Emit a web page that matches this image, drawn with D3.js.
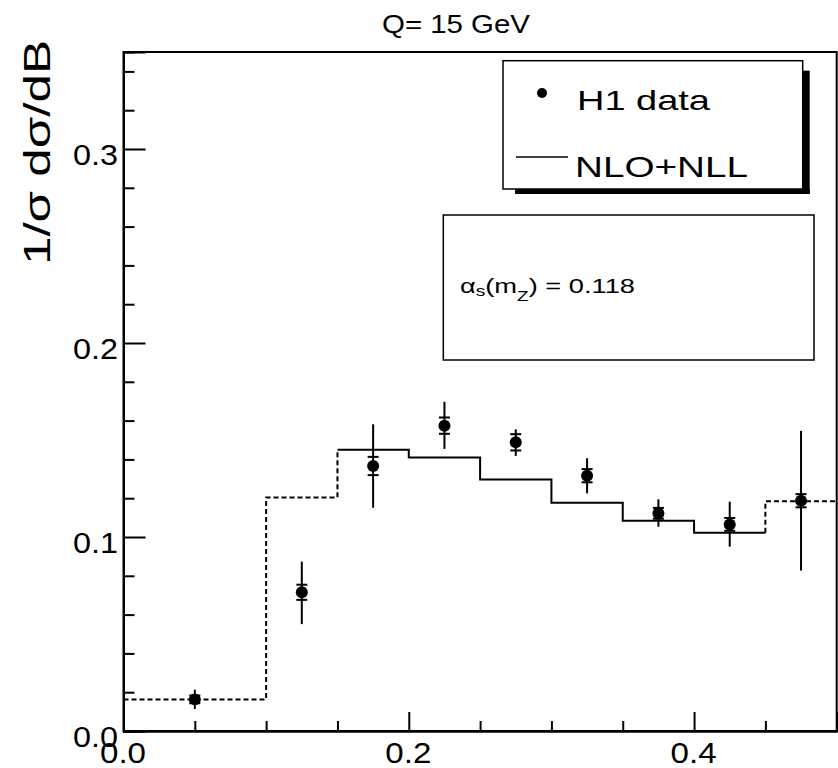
<!DOCTYPE html>
<meta charset="utf-8">
<script src="https://d3js.org/d3.v7.min.js"></script>
<style>
  html, body { margin: 0; padding: 0; background: #fff; }
  text { font-family: 'Liberation Sans', Arial, sans-serif; fill: #000; }
</style>
<body>
<div id="chart"></div>
<script>

// NLO+NLL histogram, bins of 0.05 in B
var binEdges = [0, 0.05, 0.1, 0.15, 0.2, 0.25, 0.3, 0.35, 0.4, 0.45, 0.5];
var nllVals = [0.0163, 0.0163, 0.1204, 0.145, 0.141, 0.1297, 0.1177, 0.1084, 0.1022, 0.1184];
var nllDashed = [true, true, true, false, false, false, false, false, false, true];

// H1 data points
var dataB = [0.05, 0.125, 0.175, 0.225, 0.275, 0.325, 0.375, 0.425, 0.475];
var dataVals = [0.0163, 0.0715, 0.1366, 0.1574, 0.1488, 0.1316, 0.1122, 0.1065, 0.1187];
var statErr = [0.002, 0.0039, 0.0047, 0.0042, 0.0042, 0.0034, 0.0028, 0.0033, 0.0034];
var totErrUp = [0.005, 0.0158, 0.0215, 0.0123, 0.0067, 0.009, 0.0072, 0.0117, 0.036];
var totErrDn = [0.005, 0.0164, 0.0215, 0.012, 0.007, 0.0091, 0.0069, 0.0115, 0.036];

var xMajor = [0, 0.2, 0.4];
var xMinor = [0.05, 0.1, 0.15, 0.25, 0.3, 0.35, 0.45];
var yMajor = [0, 0.1, 0.2, 0.3];
var yMinor = [0.02, 0.04, 0.06, 0.08, 0.12, 0.14, 0.16, 0.18, 0.22, 0.24, 0.26, 0.28, 0.32, 0.34];

var W = 838, H = 768;
var pLeft = 123.5, pRight = 836.7, pTop = 52, pBottom = 731;

var svg = d3.select("#chart").append("svg")
    .attr("width", W)
    .attr("height", H);

var x = d3.scaleLinear().domain([0, 0.5]).range([pLeft, pRight]);
var y = d3.scaleLinear().domain([0, 0.35]).range([pBottom, pTop]);

// frame
svg.append("rect")
  .attr("x", pLeft).attr("y", pTop)
  .attr("width", pRight - pLeft).attr("height", pBottom - pTop)
  .attr("fill", "none").attr("stroke", "#000").attr("stroke-width", 2);

// X axis (ticks point into the plot)
var xAxis = svg.append("g")
  .attr("transform", "translate(0," + pBottom + ")")
  .call(d3.axisBottom(x).tickValues(xMajor).tickSize(-19).tickPadding(10)
        .tickFormat(d3.format(".1f")));
svg.append("g")
  .attr("transform", "translate(0," + pBottom + ")")
  .call(d3.axisBottom(x).tickValues(xMinor).tickSize(-10).tickFormat(""));

// Y axis
var yAxis = svg.append("g")
  .attr("transform", "translate(" + pLeft + ",0)")
  .call(d3.axisLeft(y).tickValues(yMajor).tickSize(-22).tickPadding(5.5)
        .tickFormat(d3.format(".1f")));
svg.append("g")
  .attr("transform", "translate(" + pLeft + ",0)")
  .call(d3.axisLeft(y).tickValues(yMinor).tickSize(-11).tickFormat(""));

svg.selectAll(".domain").attr("stroke", "#000").attr("stroke-width", 2);
svg.selectAll(".tick line").attr("stroke", "#000").attr("stroke-width", 2);

xAxis.selectAll("text")
  .attr("dy", null).attr("y", 32)
  .attr("dx", -1)
  .style("font-size", "30px")
  .style("font-family", "'Liberation Sans', Arial, sans-serif")
  .attr("textLength", 46).attr("lengthAdjust", "spacingAndGlyphs");

yAxis.selectAll("text")
  .attr("dy", 15)
  .style("font-size", "29px")
  .style("font-family", "'Liberation Sans', Arial, sans-serif")
  .attr("textLength", 45).attr("lengthAdjust", "spacingAndGlyphs");

// NLO+NLL step histogram, split into solid and dashed runs
var step = d3.line()
  .x(function(d) { return x(d[0]); })
  .y(function(d) { return y(d[1]); })
  .curve(d3.curveStepAfter);

var runs = [];
var i = 0;
while (i < nllVals.length) {
  var j = i;
  while (j + 1 < nllVals.length && nllDashed[j + 1] === nllDashed[i]) j++;
  var pts = [];
  if (nllDashed[i] && i > 0) pts.push([binEdges[i], nllVals[i - 1]]);
  for (var k = i; k <= j; k++) pts.push([binEdges[k], nllVals[k]]);
  pts.push([binEdges[j + 1], nllVals[j]]);
  if (nllDashed[i] && j + 1 < nllVals.length) pts.push([binEdges[j + 1], nllVals[j + 1]]);
  runs.push({pts: pts, dashed: nllDashed[i]});
  i = j + 1;
}

svg.selectAll("path.nll")
  .data(runs)
  .enter().append("path")
  .attr("class", "nll")
  .attr("d", function(d) { return step(d.pts); })
  .attr("fill", "none")
  .attr("stroke", "#000")
  .attr("stroke-width", 2)
  .attr("stroke-dasharray", function(d) { return d.dashed ? "5,3" : null; });

// data points with errors
var points = dataB.map(function(b, i) {
  return {b: b, v: dataVals[i], s: statErr[i], up: totErrUp[i], dn: totErrDn[i]};
});

var g = svg.append("g");
g.selectAll("line.tot")
  .data(points).enter().append("line")
  .attr("class", "tot")
  .attr("x1", function(d) { return x(d.b); })
  .attr("x2", function(d) { return x(d.b); })
  .attr("y1", function(d) { return y(d.v - d.dn); })
  .attr("y2", function(d) { return y(d.v + d.up); })
  .attr("stroke", "#000").attr("stroke-width", 2);

[1, -1].forEach(function(sgn) {
  g.selectAll("line.stat" + (sgn > 0 ? "u" : "d"))
    .data(points).enter().append("line")
    .attr("class", "stat" + (sgn > 0 ? "u" : "d"))
    .attr("x1", function(d) { return x(d.b) - 5.5; })
    .attr("x2", function(d) { return x(d.b) + 5.5; })
    .attr("y1", function(d) { return y(d.v + sgn * d.s); })
    .attr("y2", function(d) { return y(d.v + sgn * d.s); })
    .attr("stroke", "#000").attr("stroke-width", 2);
});

g.selectAll("circle")
  .data(points).enter().append("circle")
  .attr("cx", function(d) { return x(d.b); })
  .attr("cy", function(d) { return y(d.v); })
  .attr("r", 6)
  .attr("fill", "#000");

// title
svg.append("text")
  .attr("x", 382).attr("y", 33)
  .style("font-size", "25px")
  .attr("textLength", 148).attr("lengthAdjust", "spacingAndGlyphs")
  .text("Q= 15 GeV");

// y title
svg.append("text")
  .attr("transform", "translate(50,40) rotate(-90)")
  .attr("text-anchor", "end")
  .style("font-size", "37px")
  .attr("textLength", 225).attr("lengthAdjust", "spacingAndGlyphs")
  .text("1/σ dσ/dB");

// legend with shadow
var lx = 503, ly = 60.7, lw = 299.7, lh = 128.3;
svg.append("rect").attr("x", lx + lw).attr("y", ly + 10).attr("width", 7).attr("height", lh - 5).attr("fill", "#000");
svg.append("rect").attr("x", lx + 12).attr("y", ly + lh).attr("width", lw - 5).attr("height", 5).attr("fill", "#000");
svg.append("rect")
  .attr("x", lx).attr("y", ly).attr("width", lw).attr("height", lh)
  .attr("fill", "#fff").attr("stroke", "#000").attr("stroke-width", 1.5);
svg.append("circle").attr("cx", 542).attr("cy", 93).attr("r", 5).attr("fill", "#000");
svg.append("text").attr("x", 577).attr("y", 110)
  .style("font-size", "28px")
  .attr("textLength", 133).attr("lengthAdjust", "spacingAndGlyphs")
  .text("H1 data");
svg.append("line").attr("x1", 516).attr("x2", 568).attr("y1", 157).attr("y2", 157)
  .attr("stroke", "#000").attr("stroke-width", 1.5);
svg.append("text").attr("x", 575).attr("y", 177)
  .style("font-size", "30px")
  .attr("textLength", 173).attr("lengthAdjust", "spacingAndGlyphs")
  .text("NLO+NLL");

// alpha_s box
svg.append("rect")
  .attr("x", 443.3).attr("y", 215).attr("width", 370.7).attr("height", 145)
  .attr("fill", "#fff").attr("stroke", "#000").attr("stroke-width", 1.5);
var at = svg.append("text").attr("x", 460).attr("y", 292.7)
  .style("font-size", "20px")
  .attr("textLength", 175).attr("lengthAdjust", "spacingAndGlyphs");
at.append("tspan").text("α");
at.append("tspan").attr("dy", 3).style("font-size", "14px").text("s");
at.append("tspan").attr("dy", -3).text("(m");
at.append("tspan").attr("dy", 8).style("font-size", "14px").text("Z");
at.append("tspan").attr("dy", -8).text(") = 0.118");

</script>
</body>
